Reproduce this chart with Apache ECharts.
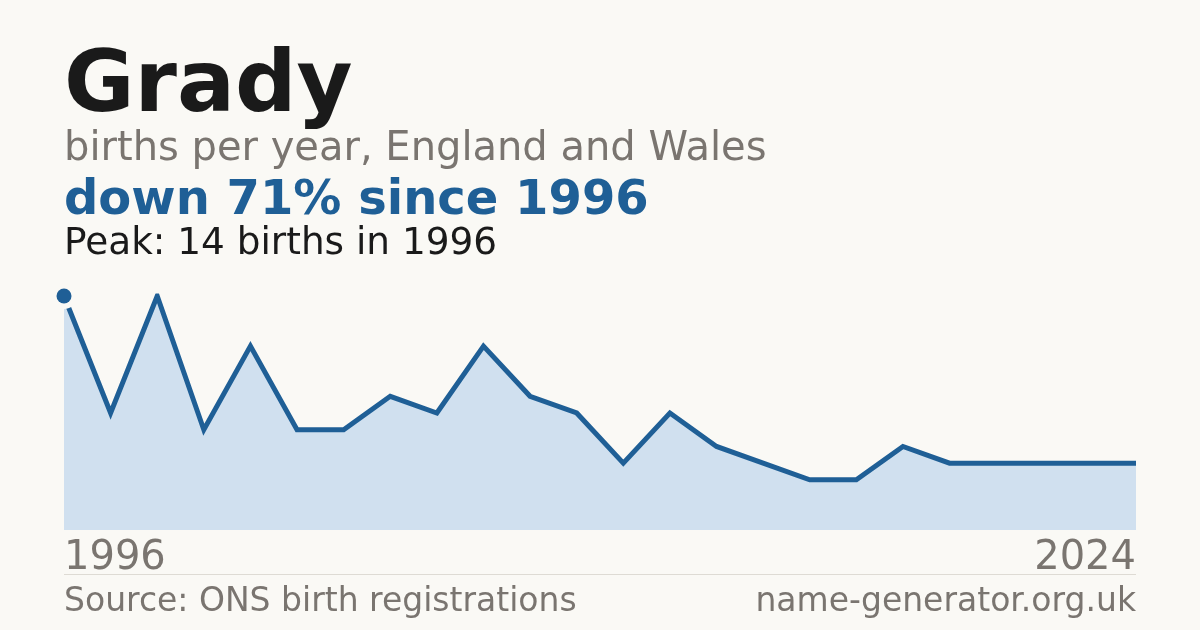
<!DOCTYPE html>
<html>
<head>
<meta charset="utf-8">
<script src="https://cdn.jsdelivr.net/npm/echarts@6/dist/echarts.min.js"></script>
<style>
html,body{margin:0;padding:0;background:#faf9f5;}
#c{width:1200px;height:630px;}
</style>
</head>
<body>
<div id="c"></div>
<script>
var years = ['1996','1997','1998','1999','2000','2001','2002','2004','2005','2006','2007','2009','2010','2011','2013','2014','2015','2017','2018','2020','2021','2022','2023','2024'];
var births = [14,7,14,6,11,6,6,8,7,11,8,7,4,7,5,4,3,3,5,4,4,4,4,4];
var axisLabels = ['1996','2024'];

var BG = '#faf9f5';
var BLUE = '#1f5f96';
var GREY = '#7a7570';
var FONT = 'DejaVu Sans';

var chart = echarts.init(document.getElementById('c'), null, {renderer:'canvas'});
chart.setOption({
  backgroundColor: BG,
  animation: false,
  grid: {left:64, right:64, top:296, bottom:100},
  xAxis: {
    type:'category', data: years, boundaryGap:false,
    axisLine:{show:false}, axisTick:{show:false}, splitLine:{show:false},
    axisLabel:{
      show:true, color:GREY, fontFamily:FONT, fontSize:40, margin:9,
      interval: function(i){ return i===0 || i===years.length-1; },
      formatter: function(v, i){ return i===0 ? axisLabels[0] : axisLabels[1]; },
      alignMinLabel:'left', alignMaxLabel:'right'
    }
  },
  yAxis: {type:'value', min:0, max:14, show:false, splitLine:{show:false}},
  series: [
    {
      type:'line', data: births, showSymbol:false, symbol:'none',
      lineStyle:{color:BLUE, width:5, join:'miter'},
      areaStyle:{color:'#d0e0ef', opacity:1},
      z:2
    },
    {
      type:'scatter', data:[[years[0], births[0]]], symbolSize:26,
      itemStyle:{color:BG, opacity:1}, z:3, silent:true
    },
    {
      type:'scatter', data:[[years[0], births[0]]], symbolSize:15,
      itemStyle:{color:BLUE, opacity:1}, z:4, silent:true
    }
  ],
  graphic: [
    {type:'text', x:64, y:88.5, style:{text:'Grady', font:'bold 86px "DejaVu Sans"', fill:'#1a1a1a', verticalAlign:'middle'}},
    {type:'text', x:64, y:150, style:{text:'births per year, England and Wales', font:'40px "DejaVu Sans"', fill:GREY, verticalAlign:'middle'}},
    {type:'text', x:64, y:202, style:{text:'down 71% since 1996', font:'bold 48px "DejaVu Sans"', fill:BLUE, verticalAlign:'middle'}},
    {type:'text', x:64, y:244, style:{text:'Peak: 14 births in 1996', font:'37.4px "DejaVu Sans"', fill:'#1a1a1a', verticalAlign:'middle'}},
    {type:'line', shape:{x1:64, y1:574.5, x2:1136, y2:574.5}, style:{stroke:'#dedbd4', lineWidth:1}},
    {type:'text', x:64, y:602, style:{text:'Source: ONS birth registrations', font:'33px "DejaVu Sans"', fill:GREY, verticalAlign:'middle'}},
    {type:'text', x:1136, y:602, style:{text:'name-generator.org.uk', font:'33px "DejaVu Sans"', fill:GREY, verticalAlign:'middle', align:'right'}}
  ]
});
</script>
</body>
</html>
